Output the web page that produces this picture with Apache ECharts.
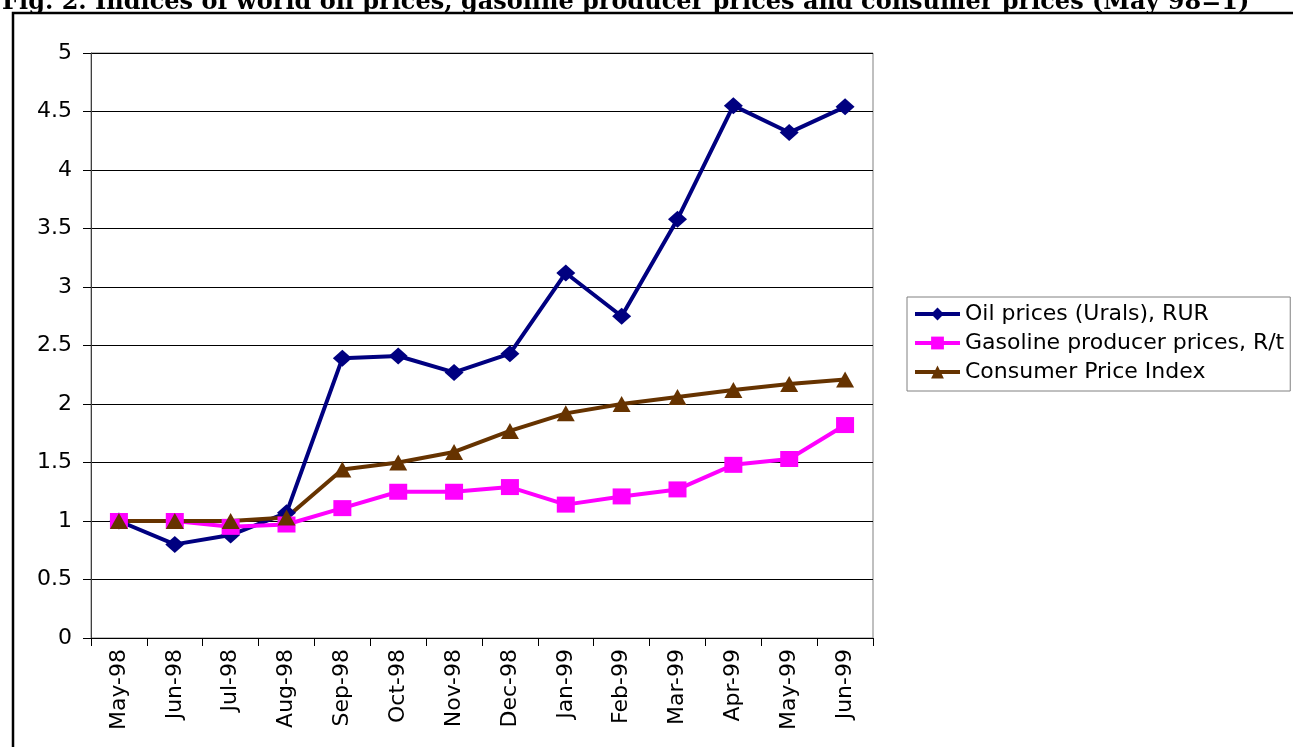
<!DOCTYPE html>
<html>
<head>
<meta charset="utf-8">
<title>Indices of world oil prices, gasoline producer prices and consumer prices</title>
<script src="https://cdn.jsdelivr.net/npm/echarts@6/dist/echarts.min.js"></script>
<style>
  html, body { margin: 0; padding: 0; background: #ffffff; }
  #chart { width: 1293px; height: 747px; }
</style>
</head>
<body>
<div id="chart"></div>
<script>
// Monthly indices, May 1998 = 1
const months = ['May-98', 'Jun-98', 'Jul-98', 'Aug-98', 'Sep-98', 'Oct-98', 'Nov-98',
                'Dec-98', 'Jan-99', 'Feb-99', 'Mar-99', 'Apr-99', 'May-99', 'Jun-99'];
const oilPrices = [1.00, 0.80, 0.88, 1.07, 2.39, 2.41, 2.27, 2.43, 3.12, 2.75, 3.58, 4.55, 4.32, 4.54];
const gasolinePrices = [1.00, 1.00, 0.95, 0.97, 1.11, 1.25, 1.25, 1.29, 1.14, 1.21, 1.27, 1.48, 1.53, 1.82];
const consumerPrices = [1.00, 1.00, 1.00, 1.03, 1.44, 1.50, 1.59, 1.77, 1.92, 2.00, 2.06, 2.12, 2.17, 2.21];
const seriesNames = ['Oil prices (Urals), RUR', 'Gasoline producer prices, R/t', 'Consumer Price Index'];
const titleText = 'Fig. 2. Indices of world oil prices, gasoline producer prices and consumer prices (May 98=1)';

const FONT = 'DejaVu Sans';
const chart = echarts.init(document.getElementById('chart'), null, { renderer: 'canvas' });

function lineSeries(name, data, color, symbol, size) {
  return {
    name: name,
    type: 'line',
    data: data,
    symbol: symbol,
    symbolSize: size,
    showAllSymbol: true,
    lineStyle: { color: color, width: 4 },
    itemStyle: { color: color, borderWidth: 0 },
    emphasis: { disabled: true },
    animation: false
  };
}

chart.setOption({
  backgroundColor: '#ffffff',
  animation: false,
  graphic: [
    {
      type: 'text',
      left: 2,
      top: -9,
      style: {
        text: titleText,
        font: 'bold 24px "DejaVu Serif", "Liberation Serif", serif',
        fill: '#000000'
      }
    },
    {
      type: 'rect',
      shape: { x: 13, y: 13, width: 1300, height: 800 },
      style: { fill: 'none', stroke: '#000000', lineWidth: 2.5 }
    }
  ],
  grid: {
    left: 91, right: 420, top: 53, bottom: 109,
    show: true, borderColor: '#808080', borderWidth: 1, backgroundColor: 'transparent'
  },
  legend: {
    orient: 'vertical',
    left: 907,
    top: 297,
    padding: [6, 6, 8, 6],
    borderColor: '#808080',
    borderWidth: 1,
    itemWidth: 45,
    itemHeight: 16,
    itemGap: 7,
    itemTextGap: 5,
    selectedMode: false,
    lineStyle: { width: 4 },
    textStyle: { fontFamily: FONT, fontSize: 22, lineHeight: 22, color: '#000000' },
    data: seriesNames
  },
  xAxis: {
    type: 'category',
    data: months,
    boundaryGap: true,
    axisLine: { lineStyle: { color: '#000000', width: 1 } },
    axisTick: { show: true, length: 8, lineStyle: { color: '#000000' } },
    axisLabel: {
      rotate: 90, margin: 11, interval: 0,
      fontFamily: FONT, fontSize: 22, color: '#000000'
    },
    splitLine: { show: false }
  },
  yAxis: {
    type: 'value',
    min: 0, max: 5, interval: 0.5,
    axisLine: { show: true, lineStyle: { color: '#404040', width: 1 } },
    axisTick: { show: true, length: 8, lineStyle: { color: '#000000' } },
    axisLabel: { margin: 19, fontFamily: FONT, fontSize: 22, color: '#000000' },
    splitLine: { show: true, lineStyle: { color: '#000000', width: 1 } }
  },
  series: [
    lineSeries(seriesNames[0], oilPrices, '#000080', 'diamond', [19, 17]),
    lineSeries(seriesNames[1], gasolinePrices, '#FF00FF', 'rect', [18, 16]),
    lineSeries(seriesNames[2], consumerPrices, '#663300', 'triangle', [18, 16])
  ]
});
</script>
</body>
</html>
